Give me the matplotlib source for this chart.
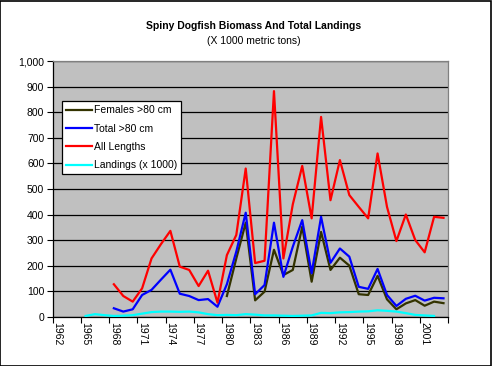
import numpy as np
import matplotlib.pyplot as plt
from matplotlib.ticker import FuncFormatter

plt.rcParams['font.family'] = ['Liberation Sans', 'DejaVu Sans']

# values (x 1000 metric tons)
years = list(range(1962, 2004))

all_years = list(range(1968, 2004))
all_lengths = [127, 81, 59, 111, 228, 284, 336, 196, 183, 120, 180, 55,
               241, 320, 580, 210, 219, 883, 228, 440, 590, 385, 782, 456,
               613, 476, 430, 385, 639, 430, 296, 400, 300, 252, 391, 387]
total_80 = [33, 20, 29, 85, 105, 145, 184, 90, 81, 65, 69, 39,
            127, 255, 407, 88, 124, 368, 156, 274, 378, 170, 391, 211,
            267, 235, 117, 109, 187, 85, 42, 70, 82, 63, 74, 72]

fem_years = list(range(1980, 2004))
females_80 = [81, 228, 368, 64, 98, 262, 163, 183, 352, 137, 332, 183,
              231, 200, 88, 85, 160, 68, 29, 52, 65, 43, 59, 53]

land_years = list(range(1965, 2003))
landings = [3, 10, 6, 3, 4, 6, 12, 18, 20, 20, 19, 20, 17, 10, 6, 7, 6, 10,
            8, 5, 5, 4, 3, 4, 5, 15, 14, 17, 18, 20, 21, 25, 23, 20, 14, 7, 5, 3]

label_years = list(range(1962, 2004, 3))

fig = plt.figure(figsize=(4.92, 3.66), dpi=100)
ax = fig.add_axes([0.107, 0.1347, 0.804, 0.698])
ax.set_facecolor('#C0C0C0')

lw = 1.6
ax.plot(fem_years, females_80, color='#333300', lw=lw, label='Females >80 cm', zorder=3)
ax.plot(all_years, total_80, color='#0000FF', lw=lw, label='Total >80 cm', zorder=3)
ax.plot(all_years, all_lengths, color='#FF0000', lw=lw, label='All Lengths', zorder=3)
ax.plot(land_years, landings, color='#00FFFF', lw=lw, label='Landings (x 1000)', zorder=3)

ax.set_xlim(years[0] - 0.5, years[-1] + 0.5)
ax.set_ylim(0, 1000)
ax.set_yticks(np.arange(0, 1001, 100))
ax.yaxis.set_major_formatter(FuncFormatter(lambda v, p: f'{int(v):,}'))
ax.grid(axis='y', color='black', lw=0.9, zorder=1)
ax.set_axisbelow(True)

# ticks between categories, labels centred on the category
ax.set_xticks([y - 0.5 for y in label_years] + [years[-1] + 0.5])
ax.set_xticklabels([])
ax.set_xticks(label_years, minor=True)
ax.set_xticklabels([str(y) for y in label_years], minor=True, rotation=-90, fontsize=7.5)
ax.tick_params(axis='x', which='major', length=4, width=0.8, direction='out')
ax.tick_params(axis='x', which='minor', length=0, pad=4)
ax.tick_params(axis='y', length=4, width=0.8, direction='out', labelsize=7.5, pad=2)

for s in ['left', 'bottom']:
    ax.spines[s].set_color('black')
    ax.spines[s].set_linewidth(0.9)
for s in ['top', 'right']:
    ax.spines[s].set_color('#808080')
    ax.spines[s].set_linewidth(0.9)

leg = ax.legend(loc='upper left', bbox_to_anchor=(0.126, 0.724), bbox_transform=fig.transFigure,
                borderaxespad=0, fontsize=7.5, frameon=True, fancybox=False, framealpha=1,
                edgecolor='black', handlelength=2.5, handletextpad=0.15, labelspacing=0.8,
                borderpad=0.4)
leg.get_frame().set_linewidth(0.9)

fig.text(0.515, 0.93, 'Spiny Dogfish Biomass And Total Landings', ha='center', va='center',
         fontsize=7.5, fontweight='bold')
fig.text(0.515, 0.888, '(X 1000 metric tons)', ha='center', va='center', fontsize=7.5)

fig.patches.append(plt.Rectangle((0.001, 0.001), 0.997, 0.996, transform=fig.transFigure,
                                 fill=False, edgecolor='black', lw=1.2))

fig.savefig('out.png', dpi=100)
